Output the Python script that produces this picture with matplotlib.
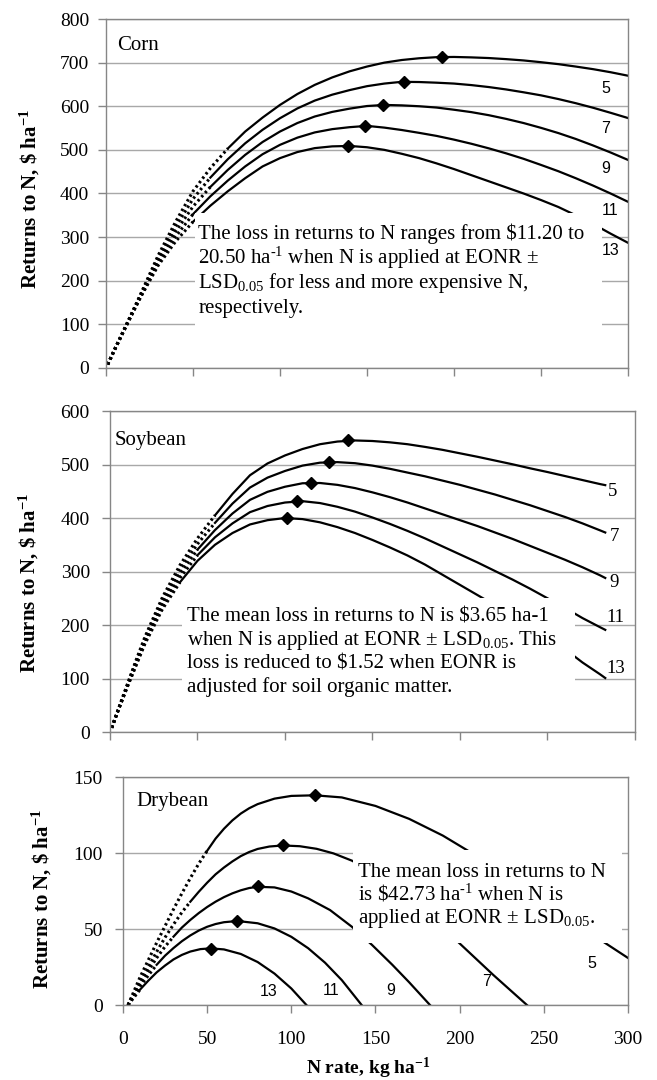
import matplotlib
matplotlib.use("Agg")
import matplotlib.pyplot as plt
from matplotlib.patches import Rectangle

plt.rcParams['font.family'] = 'Liberation Serif'
plt.rcParams['mathtext.fontset'] = 'custom'
plt.rcParams['mathtext.rm'] = 'Liberation Serif'
plt.rcParams['mathtext.it'] = 'Liberation Serif:italic'
plt.rcParams['mathtext.bf'] = 'Liberation Serif:bold'

SPINE = "#868686"
GRID = "#a8a8a8"

price_labels = ['5', '7', '9', '11', '13']

# ─────────────── Corn ───────────────
corn_n = [1, 5, 10, 15, 20, 30, 40, 50, 60, 70, 80, 90, 100, 110, 120, 130, 140, 150,
          160, 170, 180, 190, 200, 210, 220, 230, 240, 250, 260, 270, 280, 290, 300]
corn_r5 = [8, 43, 85, 127, 170, 258, 335, 405, 458, 503, 542, 574, 603, 628, 649, 666, 680, 691,
           700, 706, 710, 712.5, 713, 712, 710.5, 708, 705, 701, 696.5, 691, 685, 678, 670]
corn_r7 = [8, 43, 84, 126, 168, 252, 324, 387.5, 436.5, 478.5, 515, 546, 572.5, 595, 613, 626.5, 637, 646,
           652, 656, 655.5, 654, 652, 648.5, 644, 638.5, 632, 625, 616.5, 607, 596.5, 585, 573]
corn_r9 = [8, 42, 84, 125, 166, 246.5, 312.5, 370, 415, 454, 488.5, 518, 542, 561.5, 576.5, 587, 594.5, 600.5,
           603, 602, 600, 597, 592, 586.5, 579.5, 571, 561.5, 550.5, 538.5, 525, 510, 494, 477]
corn_r11 = [8, 42, 83, 124, 164, 240.5, 301, 352.5, 393.5, 429.5, 462, 490, 511.5, 528, 540, 547.5, 552, 555,
            551, 545.5, 539, 532, 523.5, 514, 503.5, 492, 479.5, 465.5, 451, 435, 418, 400, 381]
corn_r13 = [8, 42, 83, 123, 163, 235, 290, 335, 372, 405, 435, 462, 481, 495, 504, 508, 509, 506,
            500, 491, 481, 469, 456, 442, 428, 414, 400, 385, 369, 350, 330, 308, 287]
corn_eonr_n = [193, 171, 159, 149, 139]
corn_eonr_r = [713, 656, 603, 555, 509]
corn_solid_from = [70, 60, 60, 50, 50]
corn_label_n = [287, 287, 287, 290, 290]
corn_label_r = [641, 550, 458, 360, 270]

# ─────────────── Soybean ───────────────
soy_n = [1, 5, 10, 15, 20, 30, 40, 50, 60, 70, 80, 90, 100, 110, 120, 130, 140, 150,
         160, 170, 180, 190, 200, 210, 220, 230, 240, 250, 260, 270, 280, 283]
soy_r5 = [8, 45, 90, 135, 178, 252, 312, 362, 405, 445, 480, 502, 517, 529, 538, 543, 545, 544,
          541.5, 538, 533, 527.5, 521, 514.5, 507.5, 500.5, 493, 486, 478.5, 471, 463.5, 461.5]
soy_r7 = [8, 44, 88, 132, 175, 246.5, 304, 351.5, 391, 427, 457, 475.5, 488, 498, 503.5, 504.5, 502.5, 498,
          492, 485, 478, 470, 462, 453, 444, 434, 424, 413, 402, 390, 377, 373]
soy_r9 = [8, 44, 87, 130, 172, 241, 296, 341, 377.5, 408.5, 434, 449, 458.5, 465, 465.5, 462, 456, 448,
          439, 429, 418, 407, 396, 385, 373, 361, 348, 335, 322, 308, 293, 288]
soy_r11 = [8, 43, 86, 127, 168, 235.5, 288, 330.5, 364, 390, 411, 422.5, 429, 431.5, 428, 421, 412, 401,
           389, 376, 362, 347, 332, 317, 301, 285, 268, 250, 232, 213, 196, 191]
soy_r13 = [8, 43, 85, 125, 165, 230, 280, 320, 350, 372, 388, 396, 400, 398, 392, 383, 372, 359,
           345, 330, 313, 294, 275, 256, 237, 216, 195, 175, 155, 130, 108, 101]
soy_eonr_n = [136, 125, 115, 107, 101]
soy_eonr_r = [545, 505, 466, 432, 400]
soy_solid_from = [60, 60, 50, 50, 40]
soy_label_n = [287, 288, 288, 289, 289]
soy_label_r = [449, 365, 279, 214, 119]

# ─────────────── Drybean ───────────────
dry_n5 = [3, 10, 15, 20, 25, 30, 35, 40, 45, 50, 55, 60, 65, 70, 75, 80, 90, 100, 114,
          130, 150, 170, 190, 205, 220, 240, 260, 280, 300]
dry_r5 = [0, 18, 29.5, 41, 52, 63, 73.5, 83.5, 93, 101.5, 109.5, 116, 121.5, 126, 129.5, 132.2, 135.8, 137.6, 138,
          136.6, 131, 122.5, 111.5, 101.5, 90.5, 75.5, 60, 45.5, 31]
dry_n7 = [3, 10, 15, 20, 25, 30, 35, 40, 45, 50, 55, 60, 65, 70, 75, 80, 87, 95, 105,
          115, 125, 136, 150, 170, 190, 201, 220, 240]
dry_r7 = [0, 15, 25, 35, 44.5, 53, 61, 68, 74.5, 80.5, 86, 90.5, 94.5, 98, 100.7, 102.7, 104.3, 105, 104.5,
          102.8, 99.8, 95, 86.5, 70.5, 51, 39.5, 19.8, 0]
dry_n9 = [3, 10, 15, 20, 25, 30, 35, 40, 45, 50, 55, 60, 65, 70, 75, 80, 90, 100,
          110, 123, 136, 148, 160, 170, 182.4]
dry_r9 = [0, 14, 22.5, 31, 38.5, 45, 51, 56, 60.5, 64.5, 68, 71, 73.5, 75.5, 77, 77.8, 77.4, 74.7,
          70.2, 62.5, 51.5, 39.5, 26.5, 15, 0]
dry_n11 = [3, 10, 15, 20, 25, 30, 35, 40, 45, 50, 55, 60, 68, 80, 90, 100, 110, 120, 130, 141.8]
dry_r11 = [0, 12, 19.5, 26.5, 32.5, 37.5, 42, 45.8, 49, 51.5, 53.3, 54.5, 55.3, 53.8, 50.4, 44.9, 37.4, 27.9, 16.4, 0]
dry_n13 = [3, 10, 15, 20, 25, 30, 35, 40, 46, 52, 60, 70, 80, 90, 100, 109]
dry_r13 = [0, 10, 16, 21.5, 26, 30, 33, 35.2, 36.8, 37.3, 36.6, 33.6, 28.3, 20.7, 10.9, 0]
dry_eonr_n = [114, 95, 80, 68, 52]
dry_eonr_r = [138, 105, 78, 55, 37]
dry_solid_from = [50, 40, 30, 20, 10]
dry_label_n = [278.5, 216, 159, 123.5, 86.5]
dry_label_r = [27.4, 15.3, 9.9, 9.9, 8.8]

corn_text = ["The loss in returns to N ranges from \\$11.20 to",
             "20.50 ha$^{\\text{-1}}$ when N is applied at EONR \u00b1",
             "LSD$_{0.05}$ for less and more expensive N,",
             "respectively."]
soy_text = ["The mean loss in returns to N is \\$3.65 ha-1",
            "when N is applied at EONR \u00b1 LSD$_{0.05}$. This",
            "loss is reduced to \\$1.52 when EONR is",
            "adjusted for soil organic matter."]
dry_text = ["The mean loss in returns to N",
            "is \\$42.73 ha$^{\\text{-1}}$ when N is",
            "applied at EONR \u00b1 LSD$_{0.05}$."]


def draw_curve(ax, n, r, solid_from):
    # Excel drew dense markers: they look dotted where the curve is steep
    k = n.index(solid_from)
    ax.plot(n[:k + 1], r[:k + 1], color='black', lw=2.2, ls=(0, (0.8, 1.0)), zorder=2)
    ax.plot(n[k:], r[k:], color='black', lw=1.6, zorder=2)


def style_axes(ax, ymax, ystep, ypad):
    ax.set_xlim(0, 300)
    ax.set_ylim(0, ymax)
    ax.set_xticks(range(0, 301, 50))
    ax.set_yticks(range(0, ymax + 1, ystep))
    ax.yaxis.grid(True, color=GRID, lw=1)
    ax.set_axisbelow(True)
    for spine in ax.spines.values():
        spine.set_color(SPINE)
        spine.set_linewidth(1)
    ax.tick_params(direction='out', length=6, width=1, color=SPINE, labelsize=14)
    ax.tick_params(axis='y', pad=ypad)
    ax.tick_params(axis='x', pad=13)


fig = plt.figure(figsize=(6.57, 10.8), dpi=100)

ax1 = fig.add_axes([0.1613, 0.6593, 0.7945, 0.3231])
ax2 = fig.add_axes([0.1674, 0.3222, 0.7991, 0.2972])
ax3 = fig.add_axes([0.1872, 0.0694, 0.7686, 0.2111])

# --- Corn ---
style_axes(ax1, 800, 100, 6)
ax1.tick_params(axis='x', labelbottom=False)
for r, s in zip([corn_r5, corn_r7, corn_r9, corn_r11, corn_r13], corn_solid_from):
    draw_curve(ax1, corn_n, r, s)
ax1.plot(corn_eonr_n, corn_eonr_r, ls='none', marker='D', ms=6.5, color='black', zorder=2.5)
ax1.add_patch(Rectangle((51, 75), 234, 280, facecolor='white', edgecolor='none', zorder=3))
for i, line in enumerate(corn_text):
    ax1.text(53, 296 - i * 56.7, line, fontsize=15, va='baseline', ha='left', zorder=4)
ax1.text(6.3, 729, "Corn", fontsize=15, va='baseline', ha='left')
for lab, x, y in zip(price_labels, corn_label_n, corn_label_r):
    ax1.text(x, y, lab, family='Liberation Sans', fontsize=11.5, ha='center', va='center', zorder=4)

# --- Soybean ---
style_axes(ax2, 600, 100, 8.5)
ax2.tick_params(axis='x', labelbottom=False)
for r, s in zip([soy_r5, soy_r7, soy_r9, soy_r11, soy_r13], soy_solid_from):
    draw_curve(ax2, soy_n, r, s)
ax2.plot(soy_eonr_n, soy_eonr_r, ls='none', marker='D', ms=6.5, color='black', zorder=2.5)
ax2.add_patch(Rectangle((41, 45), 225, 205, facecolor='white', edgecolor='none', zorder=3))
for i, line in enumerate(soy_text):
    ax2.text(44, 207.5 - i * 44.3, line, fontsize=15, va='baseline', ha='left', zorder=4)
ax2.text(2.9, 536, "Soybean", fontsize=15, va='baseline', ha='left')
for lab, x, y in zip(price_labels, soy_label_n, soy_label_r):
    ax2.text(x, y, lab, fontsize=13.5, ha='center', va='center', zorder=4)

# --- Drybean ---
style_axes(ax3, 150, 50, 8.5)
dry_curves = [(dry_n5, dry_r5), (dry_n7, dry_r7), (dry_n9, dry_r9), (dry_n11, dry_r11), (dry_n13, dry_r13)]
for (n, r), s in zip(dry_curves, dry_solid_from):
    draw_curve(ax3, n, r, s)
ax3.plot(dry_eonr_n, dry_eonr_r, ls='none', marker='D', ms=6.5, color='black', zorder=2.5)
ax3.add_patch(Rectangle((136.7, 41), 160, 61, facecolor='white', edgecolor='none', zorder=3))
for i, line in enumerate(dry_text):
    ax3.text(139.6, 84.4 - i * 15.2, line, fontsize=15, va='baseline', ha='left', zorder=4)
ax3.text(7.7, 131, "Drybean", fontsize=15, va='baseline', ha='left')
for lab, x, y in zip(price_labels, dry_label_n, dry_label_r):
    ax3.text(x, y, lab, family='Liberation Sans', fontsize=11.5, ha='center', va='center', zorder=4)

# Axis titles
ylab = "Returns to N, \\$ ha$^{\\mathbf{-1}}$"
fig.text(0.0457, 0.8157, ylab, rotation=90, fontsize=15, fontweight='bold', ha='center', va='center')
fig.text(0.0434, 0.4606, ylab, rotation=90, fontsize=15, fontweight='bold', ha='center', va='center')
fig.text(0.0635, 0.1676, ylab, rotation=90, fontsize=15, fontweight='bold', ha='center', va='center')
fig.text(0.5601, 0.0111, "N rate, kg ha$^{\\mathbf{-1}}$", fontsize=14, fontweight='bold',
         ha='center', va='center')

fig.savefig('out.png', dpi=100, facecolor='white')
